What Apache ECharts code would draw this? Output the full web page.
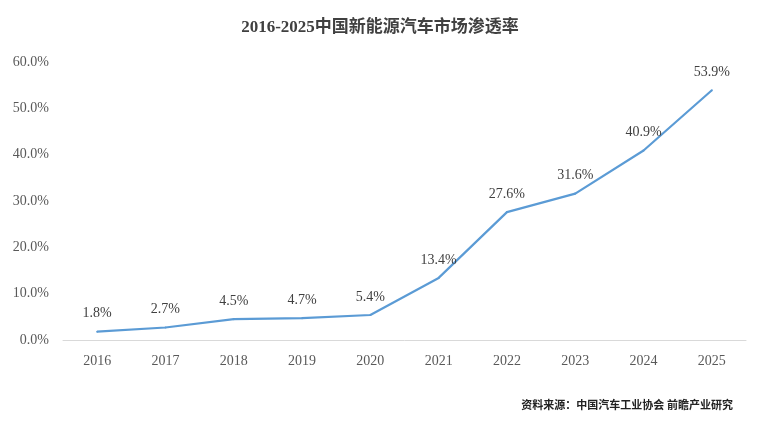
<!DOCTYPE html>
<html><head><meta charset="utf-8">
<script src="https://cdn.jsdelivr.net/npm/echarts@6/dist/echarts.min.js"></script>
<style>html,body{margin:0;padding:0;background:#fff}#c{width:760px;height:427px}</style>
</head><body><div id="c"></div>
<script>
const categories = ['2016','2017','2018','2019','2020','2021','2022','2023','2024','2025'];
const values = [1.8, 2.7, 4.5, 4.7, 5.4, 13.4, 27.6, 31.6, 40.9, 53.9];
const font = '"Liberation Serif","DejaVu Serif","Noto Sans CJK SC",serif';
const chart = echarts.init(document.getElementById('c'));
chart.setOption({
  animation: false,
  title: [{
    text: '2016-2025中国新能源汽车市场渗透率', left: 'center', top: 14,
    textStyle: {fontFamily: font, fontSize: 17, fontWeight: 'bold', color: '#404040'}
  }, {
    text: '资料来源：中国汽车工业协会 前瞻产业研究', right: 22, top: 396,
    textStyle: {fontFamily: font, fontSize: 11, fontWeight: 'bold', color: '#222'}
  }],
  grid: {left: 63, right: 14, top: 62, bottom: 87},
  xAxis: {
    type: 'category', data: categories,
    axisLine: {lineStyle: {color: '#d9d9d9'}}, axisTick: {show: false},
    axisLabel: {fontFamily: font, fontSize: 14, color: '#595959', margin: 14}
  },
  yAxis: {
    type: 'value', min: 0, max: 60, interval: 10,
    splitLine: {show: false}, axisLine: {show: false}, axisTick: {show: false},
    axisLabel: {fontFamily: font, fontSize: 14, color: '#595959', margin: 14,
      formatter: v => v.toFixed(1) + '%'}
  },
  series: [{
    type: 'line', data: values, symbol: 'circle', symbolSize: 2, showSymbol: true,
    itemStyle: {color: '#5b9bd5'},
    lineStyle: {color: '#5b9bd5', width: 2.2},
    labelLayout: {hideOverlap: false},
    label: {show: true, position: 'top', distance: 10, fontFamily: font, fontSize: 14, color: '#404040',
      formatter: p => p.value + '%'}
  }]
});
</script></body></html>
